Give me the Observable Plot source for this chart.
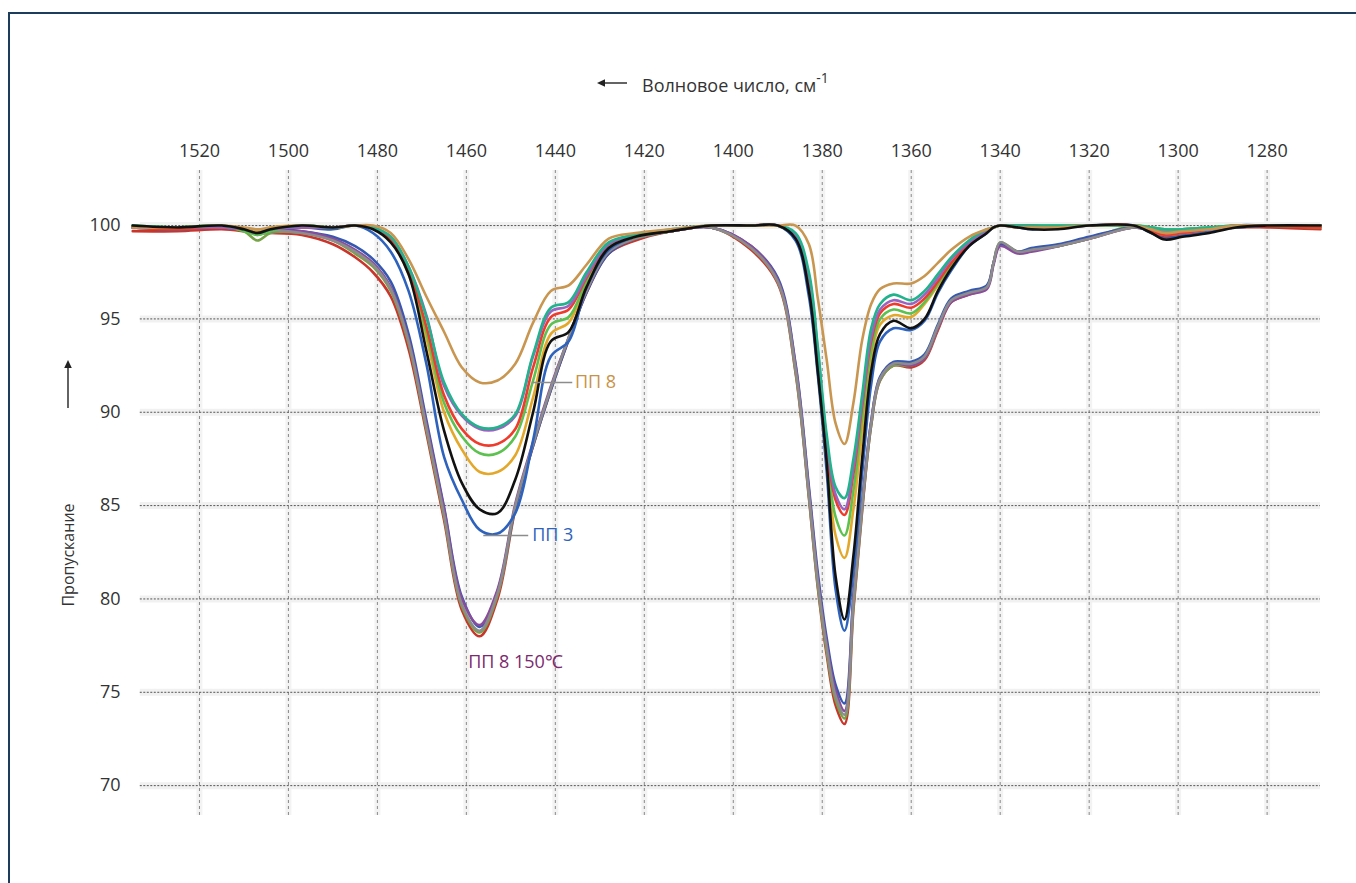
<!DOCTYPE html>
<html><head><meta charset="utf-8">
<script src="https://cdn.jsdelivr.net/npm/d3@7"></script>
<script src="https://cdn.jsdelivr.net/npm/@observablehq/plot@0.6"></script>
<style>
html,body{margin:0;padding:0;background:#fff;}
#wrap{position:relative;width:1356px;height:883px;font-family:'Open Sans',sans-serif;color:#333;overflow:hidden;}
#frame{position:absolute;left:8px;top:12px;right:-4px;bottom:-4px;border-top:2px solid #1d3d5c;border-left:2px solid #1d3d5c;pointer-events:none;}
#title{position:absolute;left:642px;top:70px;font-size:18px;white-space:nowrap;}
#title sup{font-size:14px;position:relative;top:-2px;}
#ylab{position:absolute;left:68px;top:555px;transform:translate(-50%,-50%) rotate(-90deg);font-size:16px;white-space:nowrap;}
.arr{position:absolute;}
#chart{position:absolute;left:0;top:0;}
</style>
</head><body>
<div id="wrap">
<div id="chart"></div>
<svg class="arr" style="left:594px;top:76px" width="36" height="14"><line x1="6" y1="7" x2="33" y2="7" stroke="#222" stroke-width="1.4"/><path d="M3,7 L11,3.2 L11,10.8 Z" fill="#222"/></svg>
<div id="title">Волновое число, см<sup>-1</sup></div>
<svg class="arr" style="left:61px;top:358px" width="14" height="52"><line x1="7" y1="6" x2="7" y2="50" stroke="#222" stroke-width="1.4"/><path d="M7,2 L3.2,10 L10.8,10 Z" fill="#222"/></svg>
<div id="ylab">Пропускание</div>
<div id="frame"></div>
</div>
<script>
// Wavenumber grid (cm^-1)
const wavenumber = [1535,1525,1515,1510,1507,1504,1497,1490,1485,1481,
1477,1473,1469,1465,1461,1457,1453,1449,1445,1441,
1437,1433,1428,1422,1414,1405,1396,1390,1386,1383,
1381,1379,1377,1375,1373,1371,1369,1367,1364,1360,
1357,1354,1351,1347,1343,1341.5,1340,1336,1333,1327,
1320,1310,1306,1303,1299,1293,1287,1280,1268];

const xTicks = [1520,1500,1480,1460,1440,1420,1400,1380,1360,1340,1320,1300,1280];
const yTicks = [70,75,80,85,90,95,100];

// Group A (less absorbing)
const pp8 = [99.9,99.9,100.0,99.9,99.8,99.9,100.0,99.9,100.0,100.0,
99.6,98.2,96.2,94.3,92.4,91.6,91.7,92.6,94.8,96.5,
96.8,97.9,99.3,99.6,99.8,100.0,100.0,100.0,100.0,99.0,
96.1,92.8,89.4,88.3,90.5,93.9,95.8,96.6,96.9,96.9,
97.3,98.0,98.7,99.4,99.8,99.9,100.0,99.9,99.9,99.9,
100.0,100.0,99.8,99.6,99.7,99.8,100.0,100.0,100.0];
const teal = [100.0,99.9,100.0,99.8,99.6,99.8,100.0,99.9,100.0,99.9,
99.4,97.8,95.1,91.6,89.9,89.2,89.2,89.9,93.1,95.6,
95.9,97.5,99.1,99.5,99.8,100.0,100.0,100.0,99.6,97.5,
93.5,88.8,86.0,85.4,87.5,91.0,94.5,95.8,96.3,96.0,
96.5,97.4,98.3,99.2,99.8,99.9,100.0,100.0,100.0,100.0,
100.0,100.0,99.9,99.8,99.8,99.9,100.0,100.0,100.0];
const violetA = [99.9,99.9,99.9,99.8,99.6,99.8,99.9,99.9,100.0,99.9,
99.4,97.8,95.2,91.4,89.8,89.1,89.1,89.8,93.0,95.4,
95.7,97.3,99.0,99.5,99.7,100.0,100.0,100.0,99.5,97.3,
93.3,88.5,85.6,84.8,87.0,90.6,94.0,95.5,96.0,95.8,
96.3,97.2,98.2,99.1,99.7,99.9,100.0,99.9,99.9,99.9,
100.0,100.0,99.8,99.6,99.7,99.8,100.0,100.0,100.0];
const redA = [99.9,99.8,99.9,99.8,99.6,99.8,99.9,99.9,100.0,99.9,
99.3,97.6,94.6,90.9,89.1,88.3,88.3,89.1,92.4,95.1,
95.5,97.2,99.0,99.5,99.7,100.0,100.0,100.0,99.5,97.2,
93.0,88.2,85.3,84.5,86.7,90.4,93.8,95.3,95.8,95.6,
96.1,97.0,98.0,99.0,99.7,99.9,100.0,100.0,100.0,99.9,
100.0,100.0,99.7,99.5,99.6,99.8,100.0,100.0,99.9];
const greenA = [100.0,99.9,100.0,99.7,99.5,99.7,100.0,99.9,100.0,99.9,
99.3,97.5,94.3,90.5,88.7,87.8,87.8,88.7,91.7,94.7,
95.1,97.0,98.9,99.4,99.7,100.0,100.0,100.0,99.4,97.0,
92.8,87.8,84.4,83.4,85.8,89.8,93.3,95.0,95.5,95.3,
95.9,96.9,97.9,99.0,99.7,99.9,100.0,100.0,100.0,100.0,
100.0,100.0,99.9,99.8,99.8,99.9,100.0,100.0,100.0];
const yellowA = [99.9,99.9,100.0,99.8,99.7,99.9,100.0,99.9,100.0,99.9,
99.2,97.4,94.0,90.0,88.0,86.8,86.8,87.7,90.8,94.2,
94.8,96.9,98.9,99.4,99.7,100.0,100.0,100.0,99.4,96.9,
92.6,87.5,83.4,82.2,84.8,89.0,92.9,94.7,95.2,95.1,
95.8,96.8,97.9,99.0,99.7,99.9,100.0,99.9,99.9,99.9,
100.0,100.0,99.7,99.5,99.6,99.8,100.0,100.0,100.0];
const blackA = [100.0,99.9,100.0,99.8,99.6,99.8,100.0,99.9,100.0,99.8,
99.1,97.4,93.3,89.0,86.2,84.8,84.6,86.4,90.0,93.8,
94.3,96.7,98.8,99.4,99.7,100.0,100.0,100.0,99.3,96.5,
92.2,87.3,81.2,78.9,82.3,87.6,92.2,94.2,94.9,94.5,
95.0,96.5,97.7,98.9,99.6,99.9,100.0,99.9,99.8,99.8,
100.0,100.0,99.6,99.25,99.4,99.6,99.9,100.0,100.0];
const pp3 = [99.9,99.8,99.9,99.8,99.7,99.8,99.9,99.8,100.0,99.6,
98.6,96.5,92.6,87.6,85.3,83.7,83.5,84.6,88.5,93.0,
93.8,96.7,98.7,99.4,99.7,100.0,100.0,100.0,99.2,96.2,
92.0,86.8,80.5,78.3,81.5,86.8,91.5,93.8,94.5,94.4,
94.9,96.4,97.6,98.9,99.6,99.9,100.0,99.9,99.8,99.9,
100.0,100.0,99.6,99.3,99.5,99.7,100.0,100.0,100.0];

// Group B (strongly absorbing)
const pp8_150 = [99.9,99.9,99.9,99.8,99.6,99.7,99.7,99.3,98.7,98.0,
96.7,93.9,89.4,84.8,80.0,78.6,80.5,85.1,88.4,91.4,
94.0,96.5,98.6,99.3,99.7,99.9,98.9,97.1,92.5,85.8,
81.1,77.6,75.1,74.0,80.0,85.1,89.5,91.8,92.6,92.5,
92.9,94.5,95.9,96.3,96.6,97.9,98.9,98.5,98.6,98.9,
99.3,99.9,99.8,99.6,99.7,99.8,99.9,100.0,100.0];
const blueB = [99.9,99.8,99.9,99.8,99.6,99.8,99.7,99.4,98.9,98.2,
97.0,94.2,89.6,84.9,80.1,78.5,80.4,84.9,88.2,91.2,
93.9,96.4,98.5,99.3,99.7,99.9,98.9,97.2,92.6,86.0,
81.4,77.9,75.4,74.4,80.2,85.2,89.5,91.9,92.7,92.7,
93.1,94.7,96.1,96.5,96.8,98.0,99.0,98.6,98.8,99.0,
99.4,99.9,99.7,99.5,99.6,99.8,99.9,100.0,100.0];
const grayB = [99.9,99.9,99.9,99.8,99.5,99.7,99.6,99.2,98.6,97.9,
96.6,93.8,89.2,84.5,79.7,78.3,80.3,85.0,88.3,91.3,
94.0,96.5,98.6,99.3,99.7,99.9,98.8,97.0,92.3,85.6,
80.9,77.4,74.8,73.8,79.8,85.0,89.4,91.8,92.6,92.6,
93.0,94.6,96.0,96.4,96.7,98.0,99.1,98.6,98.7,98.9,
99.3,99.9,99.8,99.7,99.7,99.8,99.9,100.0,100.0];
const greenB = [100.0,99.9,99.9,99.7,99.2,99.6,99.6,99.2,98.5,97.8,
96.5,93.7,89.1,84.4,79.6,78.2,80.2,84.9,88.3,91.3,
94.0,96.5,98.6,99.3,99.7,99.9,98.8,97.0,92.2,85.5,
80.7,77.2,74.6,73.6,79.6,84.9,89.3,91.7,92.5,92.5,
92.9,94.5,96.0,96.4,96.7,98.0,99.1,98.6,98.7,98.9,
99.3,100.0,99.9,99.8,99.8,99.9,100.0,100.0,99.9];
const redB = [99.7,99.7,99.8,99.7,99.6,99.6,99.5,99.0,98.3,97.5,
96.2,93.4,88.9,84.2,79.4,78.0,80.0,84.8,88.2,91.2,
93.9,96.4,98.5,99.2,99.7,99.9,98.7,96.9,92.1,85.4,
80.6,77.0,74.3,73.3,79.4,84.8,89.3,91.7,92.5,92.4,
92.8,94.4,95.9,96.3,96.7,98.0,99.0,98.6,98.7,98.9,
99.3,99.9,99.7,99.4,99.5,99.7,99.9,99.9,99.8];

// draw order: bottom first
const series = [
  {name:"ПП red 150", values: redB, color:"#c9352b"},
  {name:"ПП green 150", values: greenB, color:"#76a347"},
  {name:"ПП blue 150", values: blueB, color:"#3558b0"},
  {name:"ПП 8 150°C", values: pp8_150, color:"#8a4c9c"},
  {name:"ПП gray 150", values: grayB, color:"#8c8c8c"},
  {name:"ПП 3", values: pp3, color:"#2d62bd"},
  {name:"yellow", values: yellowA, color:"#e3a82a"},
  {name:"green", values: greenA, color:"#5cc14f"},
  {name:"red", values: redA, color:"#ef3b2c"},
  {name:"violet", values: violetA, color:"#9a63c0"},
  {name:"teal", values: teal, color:"#22b38d"},
  {name:"ПП 8", values: pp8, color:"#c99650"},
  {name:"black", values: blackA, color:"#111111"}
];

const labels = [
  {text:"ПП 8", w:1435.6, t:91.6, color:"#c8924a", lx1:1445.2, lx2:1436.2},
  {text:"ПП 3", w:1445.2, t:83.4, color:"#2d62bd", lx1:1456.2, lx2:1446.1},
  {text:"ПП 8 150℃", w:1459.6, t:76.6, color:"#7b2a6e", lx1:null, lx2:null}
];

const lineMarks = series.map(s => Plot.line(
  wavenumber.map((w, i) => ({w, t: s.values[i]})),
  {x:"w", y:"t", stroke:s.color, strokeWidth:2.6, curve:"catmull-rom", strokeLinejoin:"round"}
));

const gx1 = 1533.3, gx2 = 1268;

const chart = Plot.plot({
  width:1356, height:883,
  marginLeft:130, marginRight:36, marginTop:170, marginBottom:68,
  style:{fontFamily:"'Open Sans', sans-serif", fontSize:"17px", color:"#333", background:"transparent"},
  x:{domain:[1535.5,1268]},
  y:{domain:[68.4,102.95]},
  marks:[
    Plot.ruleX(xTicks, {stroke:"#f3f3f3", strokeWidth:6}),
    Plot.ruleY(yTicks, {x1:gx1, x2:gx2, stroke:"#f1f1f1", strokeWidth:7}),
    Plot.ruleX(xTicks, {stroke:"#8a8a8a", strokeWidth:1, strokeDasharray:"3,3"}),
    Plot.ruleY(yTicks, {x1:gx1, x2:gx2, stroke:"#555", strokeWidth:1, strokeDasharray:"2,1.5"}),
    Plot.axisX(xTicks, {anchor:"top", tickSize:0, tickPadding:14, label:null, fontSize:18, fill:"#333", tickFormat:d => String(d)}),
    Plot.axisY(yTicks, {anchor:"left", tickSize:0, tickPadding:10, label:null, fontSize:18, fill:"#333", tickFormat:d => String(d)}),
    ...lineMarks,
    Plot.link(labels.filter(d => d.lx1 != null), {x1:"lx1", x2:"lx2", y1:"t", y2:"t", stroke:"#8c8c8c", strokeWidth:1.5}),
    Plot.text(labels, {x:"w", y:"t", text:"text", fill:d => d.color, textAnchor:"start", fontSize:18})
  ]
});
document.getElementById("chart").appendChild(chart);
</script>
</body></html>
